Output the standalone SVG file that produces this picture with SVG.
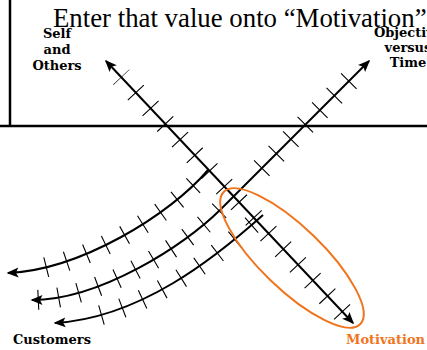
<svg xmlns="http://www.w3.org/2000/svg" width="427" height="350" viewBox="0 0 427 350">
<style>
.frame{stroke:#000;stroke-width:2.5;fill:none}
.axis{stroke:#000;stroke-width:2;fill:none;marker-end:url(#ah);marker-start:url(#ah)}
.curve{stroke:#000;stroke-width:2;fill:none;marker-end:url(#ah)}
.tick{stroke:#000;fill:none;stroke-width:22}
.ctick{stroke:#000;fill:none;stroke-width:20}
.lbl{font-family:"DejaVu Serif","Liberation Serif",serif;font-weight:bold;font-size:13px;fill:#000}
.title{font-family:"Liberation Serif","Times New Roman",serif;font-size:26.8px;fill:#000}
</style>
<defs>
<marker id="ah" viewBox="-13 -6 14 12" refX="-1.5" refY="0" markerWidth="14" markerHeight="12" markerUnits="userSpaceOnUse" orient="auto-start-reverse">
<path d="M0,0 L-12,-5 L-9.5,0 L-12,5 Z" fill="#000"/>
</marker>
</defs>
<g id="frame">
<line class="frame" x1="10" y1="0" x2="10" y2="126"/>
<line class="frame" x1="0" y1="126" x2="427" y2="126"/>
</g>
<g id="title"><text class="title" x="53" y="27">Enter that value onto “Motivation”</text></g>
<g id="connectors">
<path id="motivation-axis" class="axis" d="M106,61 L353,323"/>
<path class="tick" d="M121.1,77 L345,315" stroke-dasharray="1.1 20.4" stroke-dashoffset="0.55"/>
<path id="objective-axis" class="curve" d="M220,210 L369,61" style="marker-start:none"/>
<path id="curve2" class="curve" d="M220,210 C185,245 100,300 32,300"/>
<path class="tick" d="M369,61 L220,210" stroke-dasharray="0 28 1.1 19.4 1.1 19.4 1.1 19.4 1.1 19.4 1.1 19.4 1.1 19.4 1.1 1000"/>
<path class="ctick" d="M220,210 C185,245 100,300 32,300" stroke-dasharray="0 0.7 1.1 19.4 1.1 19.4 1.1 19.4 1.1 19.4 1.1 19.4 1.1 19.4 1.1 19.4 1.1 19.4 1.1 19.4 1.1 19.4 1.1 1000"/>
<path id="curve1" class="curve" d="M208,170 C170,215 80,270 8,273"/>
<path class="ctick" d="M208,170 C170,215 80,270 8,273" stroke-dasharray="0 21 1.1 20.1 1.1 20.1 1.1 20.1 1.1 20.1 1.1 20.1 1.1 20.1 1.1 20.1 1.1 20.1 1.1 1000"/>
<path id="curve3" class="curve" d="M263,215 C215,258 140,318 55,323"/>
<path class="ctick" d="M263,215 C215,258 140,318 55,323" stroke-dasharray="0 15 1.1 20.9 1.1 20.9 1.1 20.9 1.1 20.9 1.1 20.9 1.1 20.9 1.1 20.9 1.1 20.9 1.1 1000"/>
</g>
<g id="highlight">
<ellipse cx="292" cy="258" rx="95" ry="31" transform="rotate(44 292 258)" fill="none" stroke="#f0741c" stroke-width="2"/>
</g>
<g id="self-others"><text class="lbl" text-anchor="middle"><tspan x="57" y="38">Self</tspan><tspan x="57" y="54">and</tspan><tspan x="57" y="70">Others</tspan></text></g>
<g id="objective-time"><text class="lbl" text-anchor="middle"><tspan x="408" y="37">Objective</tspan><tspan x="408" y="52">versus</tspan><tspan x="408" y="67">Time</tspan></text></g>
<g id="customers"><text class="lbl" x="13" y="344">Customers</text></g>
<g id="motivation"><text class="lbl" x="346" y="344" style="fill:#f0741c">Motivation</text></g>
</svg>
